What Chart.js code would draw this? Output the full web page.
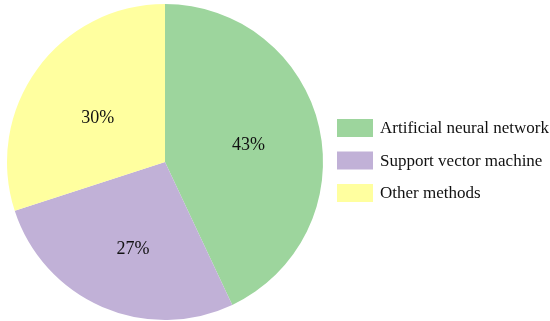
<!DOCTYPE html>
<html><head><meta charset="utf-8">
<script src="https://cdn.jsdelivr.net/npm/chart.js@4/dist/chart.umd.min.js"></script>
<style>html,body{margin:0;padding:0;background:#fff;}#wrap{width:550px;height:321px;position:relative;}</style>
</head><body><div id="wrap"><canvas id="c" width="550" height="321"></canvas></div>
<script>
const categories = ["Artificial neural network", "Support vector machine", "Other methods"];
const shares = [43, 27, 30];
const colors = ["#9dd59d", "#c1b1d7", "#ffff9f"];

const FONT = "'Liberation Serif', 'Times New Roman', serif";

const labelPlugin = {
  id: 'sliceLabels',
  afterDatasetsDraw(chart, args, opts) {
    const ctx = chart.ctx;
    const meta = chart.getDatasetMeta(0);
    ctx.save();
    ctx.font = "18px " + FONT;
    ctx.fillStyle = "#111";
    ctx.textAlign = "center";
    ctx.textBaseline = "middle";
    meta.data.forEach((arc, i) => {
      const p = arc.getProps(['x','y','startAngle','endAngle','outerRadius'], true);
      const mid = (p.startAngle + p.endAngle) / 2 + (opts.angleShift[i] * Math.PI / 180);
      const d = p.outerRadius * opts.radius[i];
      ctx.fillText(shares[i] + "%", p.x + Math.cos(mid) * d, p.y + Math.sin(mid) * d + 1);
    });
    ctx.restore();
  }
};

const legendPlugin = {
  id: 'sideLegend',
  afterDraw(chart) {
    const ctx = chart.ctx;
    ctx.save();
    ctx.font = "17px " + FONT;
    ctx.textBaseline = "middle";
    ctx.textAlign = "left";
    categories.forEach((name, i) => {
      const cy = 128 + i * 32.5;
      ctx.fillStyle = colors[i];
      ctx.fillRect(337, cy - 9, 36, 18);
      ctx.fillStyle = "#111";
      ctx.fillText(name, 380, cy + 1);
    });
    ctx.restore();
  }
};

new Chart(document.getElementById('c'), {
  type: 'pie',
  data: {
    labels: categories,
    datasets: [{ data: shares, backgroundColor: colors, borderWidth: 0 }]
  },
  options: {
    responsive: false,
    animation: false,
    layout: { padding: { left: 7, right: 227, top: 4, bottom: 1 } },
    plugins: {
      legend: { display: false },
      tooltip: { enabled: false },
      sliceLabels: { radius: [0.54, 0.58, 0.51], angleShift: [0.4, -3, -2.7] }
    }
  },
  plugins: [labelPlugin, legendPlugin]
});
</script></body></html>
